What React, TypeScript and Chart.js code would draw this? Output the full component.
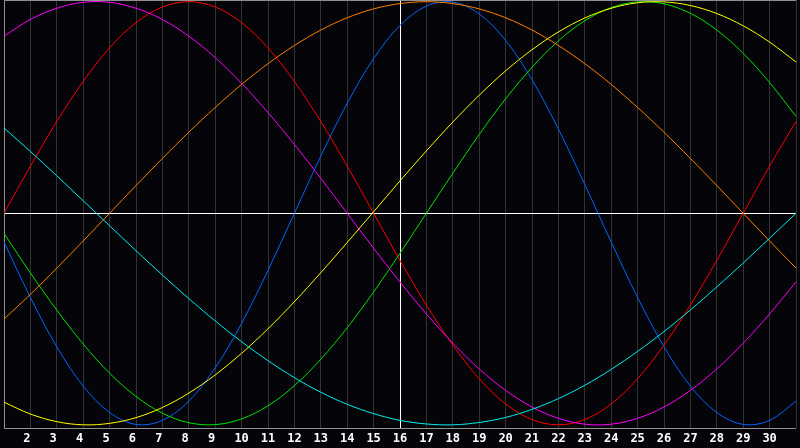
import { useEffect, useRef } from 'react';
import { Chart, registerables, Plugin } from 'chart.js';

Chart.register(...registerables);

// day of month shown on the x axis, and the highlighted day
const DAYS = [1, 2, 3, 4, 5, 6, 7, 8, 9, 10, 11, 12, 13, 14, 15, 16, 17, 18, 19, 20, 21, 22, 23, 24, 25, 26, 27, 28, 29, 30, 31];
const TODAY = 16;

// cycle values per day, -1 .. 1
const PHYSICAL = [-0.136, -0.398, -0.631, -0.817, -0.942, -0.998, -0.979, -0.888, -0.731, -0.520, -0.270, 0, 0.270, 0.520, 0.731, 0.888, 0.979, 0.998, 0.942, 0.817, 0.631, 0.398, 0.136, -0.136, -0.398, -0.631, -0.817, -0.942, -0.998, -0.979, -0.888];
const EMOTIONAL = [0, 0.223, 0.434, 0.623, 0.782, 0.901, 0.975, 1, 0.975, 0.901, 0.782, 0.623, 0.434, 0.223, 0, -0.223, -0.434, -0.623, -0.782, -0.901, -0.975, -1, -0.975, -0.901, -0.782, -0.623, -0.434, -0.223, 0, 0.223, 0.434];
const INTELLECTUAL = [-0.095, -0.282, -0.458, -0.618, -0.756, -0.866, -0.945, -0.990, -0.999, -0.972, -0.910, -0.815, -0.690, -0.541, -0.372, -0.189, 0, 0.189, 0.372, 0.541, 0.690, 0.815, 0.910, 0.972, 0.999, 0.990, 0.945, 0.866, 0.756, 0.618, 0.458];
const INTUITIVE = [0.837, 0.916, 0.969, 0.997, 0.997, 0.969, 0.916, 0.837, 0.736, 0.614, 0.476, 0.325, 0.165, 0, -0.165, -0.325, -0.476, -0.614, -0.736, -0.837, -0.916, -0.969, -0.997, -0.997, -0.969, -0.916, -0.837, -0.736, -0.614, -0.476, -0.325];
const AESTHETIC = [-0.893, -0.949, -0.985, -1.000, -0.993, -0.966, -0.918, -0.850, -0.764, -0.662, -0.546, -0.418, -0.281, -0.138, 0.007, 0.153, 0.295, 0.431, 0.558, 0.673, 0.773, 0.857, 0.923, 0.969, 0.995, 0.999, 0.982, 0.944, 0.886, 0.809, 0.715];
const AWARENESS = [-0.5, -0.383, -0.259, -0.131, 0, 0.131, 0.259, 0.383, 0.5, 0.609, 0.707, 0.793, 0.866, 0.924, 0.966, 0.991, 1, 0.991, 0.966, 0.924, 0.866, 0.793, 0.707, 0.609, 0.5, 0.383, 0.259, 0.131, 0, -0.131, -0.259];
const SPIRITUAL = [0.403, 0.292, 0.177, 0.059, -0.059, -0.177, -0.292, -0.403, -0.509, -0.607, -0.697, -0.777, -0.846, -0.903, -0.947, -0.979, -0.996, -1.000, -0.989, -0.965, -0.927, -0.876, -0.813, -0.738, -0.653, -0.559, -0.457, -0.348, -0.235, -0.118, 0];

const BG = '#050408';
const GRID = '#333333';
const FRAME = '#909090';

// zero line and the grey frame round the plot
const framePlugin: Plugin = {
  id: 'frame',
  beforeDatasetsDraw(chart) {
    const { ctx, chartArea: a, scales } = chart;
    const y0 = Math.round(scales.y.getPixelForValue(0)) + 0.5;
    ctx.save();
    ctx.lineWidth = 1;
    ctx.strokeStyle = '#ffffff';
    ctx.beginPath();
    ctx.moveTo(a.left, y0);
    ctx.lineTo(a.right, y0);
    ctx.stroke();
    ctx.strokeStyle = FRAME;
    ctx.beginPath();
    ctx.moveTo(a.right, a.top + 0.5);
    ctx.lineTo(a.left + 0.5, a.top + 0.5);
    ctx.lineTo(a.left + 0.5, a.bottom + 0.5);
    ctx.lineTo(a.right, a.bottom + 0.5);
    ctx.stroke();
    ctx.restore();
  },
};

export default function App() {
  const canvasRef = useRef<HTMLCanvasElement>(null);
  const chartRef = useRef<Chart | null>(null);

  useEffect(() => {
    document.body.style.margin = '0';
    if (!canvasRef.current) return;
    chartRef.current?.destroy();

    const line = (data: number[], color: string) => ({
      data,
      borderColor: color,
      borderWidth: 1,
      pointRadius: 0,
      tension: 0.35,
      fill: false,
    });

    chartRef.current = new Chart(canvasRef.current, {
      type: 'line',
      data: {
        labels: DAYS.map(String),
        datasets: [
          line(SPIRITUAL, '#00f0f0'),
          line(AWARENESS, '#ff8000'),
          line(AESTHETIC, '#ffff00'),
          line(INTUITIVE, '#ff00ff'),
          line(INTELLECTUAL, '#00e400'),
          line(EMOTIONAL, '#ff0000'),
          line(PHYSICAL, '#0066ff'),
        ],
      },
      options: {
        animation: false,
        responsive: true,
        maintainAspectRatio: false,
        layout: { padding: 0 },
        plugins: { legend: { display: false }, tooltip: { enabled: false } },
        scales: {
          x: {
            type: 'category',
            offset: false,
            border: { display: false },
            grid: {
              drawTicks: false,
              color: ctx => (DAYS[ctx.index] === TODAY ? '#ffffff' : GRID),
            },
            ticks: {
              autoSkip: false,
              maxRotation: 0,
              padding: 4,
              color: '#ffffff',
              font: { family: '"DejaVu Sans Mono", monospace', size: 12, weight: 'bold' },
              callback: (_v, i) => {
                const d = DAYS[i];
                if (i === 0 || i === DAYS.length - 1) return '';
                return d < 10 ? `${d} ` : String(d);
              },
            },
            afterFit: axis => { axis.height = 20; },
          },
          y: {
            display: false,
            min: -1.015,
            max: 1.008,
          },
        },
      },
      plugins: [framePlugin],
    });

    return () => { chartRef.current?.destroy(); chartRef.current = null; };
  }, []);

  return (
    <div style={{ position: 'relative', width: 800, height: 448, background: BG }}>
      <canvas ref={canvasRef} />
    </div>
  );
}
